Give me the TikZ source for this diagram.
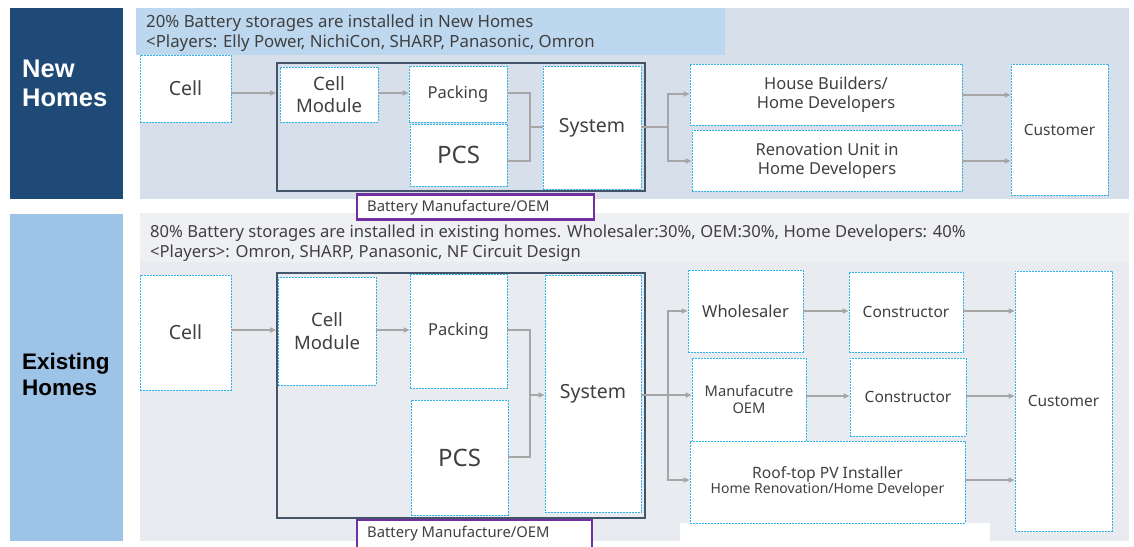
\documentclass[tikz,border=0pt]{standalone}
\usepackage{fontspec}
\setmainfont{Noto Sans}
\newfontfamily\lblfont{Liberation Sans}
\usetikzlibrary{arrows.meta}
\definecolor{navy}{HTML}{1F4A78}
\definecolor{panelA}{HTML}{D6DFEA}
\definecolor{titleA}{HTML}{BDD7EE}
\definecolor{lblue}{HTML}{9DC3E6}
\definecolor{panelB}{HTML}{E8EBF0}
\definecolor{titleB}{HTML}{EFF0F3}
\definecolor{outl}{HTML}{44546A}
\definecolor{cyanD}{HTML}{2DB3E6}
\definecolor{purp}{HTML}{7030A0}
\definecolor{arrg}{HTML}{A6A6A6}
\definecolor{txt}{HTML}{404040}
\tikzset{
  box/.style={draw=cyanD, dash pattern=on 2pt off 1pt, line width=0.8pt, fill=white, inner sep=0pt, align=center, text=txt},
  oembox/.style={draw=outl, solid, line width=1.6pt, fill=none, inner sep=0pt},
  plain/.style={draw=none, inner sep=0pt},
  lab/.style={draw=purp, solid, line width=2.6pt, fill=white, inner sep=0pt},
  arr/.style={draw=arrg, line width=1.2pt, -{Triangle[length=6pt,width=5pt]}},
  ln/.style={draw=arrg, line width=1.2pt},
  ttl/.style={anchor=north west, align=left, inner sep=0pt, text=txt},
  labtxt/.style={anchor=west, inner sep=0pt, text=txt, font=\fontsize{14.8}{17}\selectfont},
}
\newcommand\bbox[7][]{%
  \pgfmathsetmacro\bw{#5-#3}\pgfmathsetmacro\bh{#6-#4}%
  \node[box,#1,minimum width=\bw pt,minimum height=\bh pt] (#2) at ({(#3+#5)/2},{(#4+#6)/2}) {#7};}
\begin{document}
\begin{tikzpicture}[x=1pt,y=-1pt]
\useasboundingbox (0,0) rectangle (1134,546);
\fill[white] (0,0) rectangle (1134,546);
% ---------------- New Homes ----------------
\bbox[plain,fill=navy]{nh}{10}{8}{123}{199}{}
\node[anchor=north west, align=left, text=white, font=\lblfont\fontsize{25.5}{29}\selectfont\bfseries, inner sep=0pt] (nhl) at (22,60) {New\\Homes};
\bbox[plain,fill=panelA]{pA}{140}{8}{1129}{199}{}
\bbox[plain,fill=titleA]{tA}{136}{8}{725}{55}{}
\node[ttl, font=\fontsize{16.8}{20}\selectfont] (tAt) at (146,14.5) {20\% Battery storages are installed in New Homes\\<Players: Elly Power, NichiCon, SHARP, Panasonic, Omron};
\bbox[oembox]{oemA}{277}{63}{645}{191}{}
\bbox[font=\fontsize{19.5}{22}\selectfont]{cellA}{140}{55}{231}{122}{Cell}
\bbox[font=\fontsize{18.5}{22}\selectfont]{cmA}{280}{67}{378}{122}{Cell\\Module}
\bbox[font=\fontsize{16.5}{20}\selectfont]{packA}{409}{66}{507}{122}{Packing}
\bbox[font=\fontsize{24}{26}\selectfont]{pcsA}{410}{124}{507}{186}{PCS}
\bbox[font=\fontsize{19.5}{22}\selectfont]{sysA}{543}{66}{641}{189}{System}
\bbox[font=\fontsize{16.5}{19}\selectfont]{hbA}{690}{64}{962}{125}{House Builders/\\Home Developers}
\bbox[font=\fontsize{16.5}{19}\selectfont]{renA}{692}{130}{962}{191}{Renovation Unit in\\Home Developers}
\bbox[font=\fontsize{15.5}{18}\selectfont]{custA}{1011}{64}{1108}{195}{Customer}
% arrows top
\draw[arr] (cellA.east |- 0,93) -- (oemA.west |- 0,93);
\draw[arr] (cmA.east |- 0,93) -- (packA.west |- 0,93);
\coordinate (jA) at (530,127);
\draw[ln] (packA.east |- 0,93) -| (jA);
\draw[ln] (pcsA.east |- 0,161) -| (jA);
\draw[ln] (jA) -- (sysA.west |- jA);
\coordinate (sA) at (668,127);
\draw[ln] (sysA.east |- sA) -- (sA);
\draw[arr] (sA) |- (hbA.west |- 0,94);
\draw[arr] (sA) |- (renA.west |- 0,161);
\draw[arr] (hbA.east |- 0,95) -- (custA.west |- 0,95);
\draw[arr] (renA.east |- 0,161) -- (custA.west |- 0,161);
% ---------------- Existing Homes ----------------
\bbox[plain,fill=lblue]{eh}{10}{214}{123}{541}{}
\node[anchor=north west, align=left, text=black, font=\lblfont\fontsize{22.5}{26}\selectfont\bfseries, inner sep=0pt] (ehl) at (22,353) {Existing\\Homes};
\bbox[plain,fill=panelB]{pB}{140}{213}{1129}{541}{}
\bbox[plain,fill=titleB]{tB}{140}{213}{1129}{262}{}
\node[ttl, font=\fontsize{16.6}{20}\selectfont] (tBt) at (150,224.5) {80\% Battery storages are installed in existing homes. Wholesaler:30\%, OEM:30\%, Home Developers: 40\%\\<Players>: Omron, SHARP, Panasonic, NF Circuit Design};
\bbox[plain,fill=white]{wB}{680}{523}{990}{546}{}
\bbox[oembox]{oemB}{277}{273}{645}{518}{}
\bbox[font=\fontsize{19.5}{22}\selectfont]{cellB}{140}{275}{231}{390}{Cell}
\bbox[font=\fontsize{18.5}{23}\selectfont]{cmB}{278}{277}{376}{385}{Cell\\Module}
\bbox[font=\fontsize{16.5}{20}\selectfont]{packB}{410}{274}{507}{388}{Packing}
\bbox[font=\fontsize{24}{26}\selectfont]{pcsB}{411}{400}{508}{515}{PCS}
\bbox[font=\fontsize{19.5}{22}\selectfont]{sysB}{545}{275}{641}{512}{System}
\bbox[font=\fontsize{16.5}{19}\selectfont]{whB}{688}{270}{803}{352}{Wholesaler}
\bbox[font=\fontsize{15.5}{18}\selectfont]{con1B}{849}{272}{963}{352}{Constructor}
\bbox[font=\fontsize{14.7}{17}\selectfont]{mfB}{692}{358}{806}{441}{Manufacutre\\OEM}
\bbox[font=\fontsize{15.5}{18}\selectfont]{con2B}{850}{358}{966}{436}{Constructor}
\bbox{roofB}{690}{441}{965}{523}{{\fontsize{15.6}{18}\selectfont Roof-top PV Installer}\\{\fontsize{14}{16}\selectfont Home Renovation/Home Developer}}
\bbox[font=\fontsize{15.5}{18}\selectfont]{custB}{1015}{271}{1112}{531}{Customer}
% arrows bottom
\draw[arr] (cellB.east |- 0,330) -- (oemB.west |- 0,330);
\draw[arr] (cmB.east |- 0,330) -- (packB.west |- 0,330);
\coordinate (jB) at (530,395);
\draw[ln] (packB.east |- 0,330) -| (jB);
\draw[ln] (pcsB.east |- 0,457) -| (jB);
\draw[arr] (jB) -- (sysB.west |- jB);
\coordinate (sB) at (668,395);
\draw[ln] (sysB.east |- sB) -- (sB);
\draw[arr] (sB) |- (whB.west |- 0,311);
\draw[arr] (sB) -- (mfB.west |- sB);
\draw[arr] (sB) |- (roofB.west |- 0,480);
\draw[arr] (whB.east |- 0,311) -- (con1B.west |- 0,311);
\draw[arr] (mfB.east |- 0,396) -- (con2B.west |- 0,396);
\draw[arr] (con1B.east |- 0,311) -- (custB.west |- 0,311);
\draw[arr] (con2B.east |- 0,396) -- (custB.west |- 0,396);
\draw[arr] (roofB.east |- 0,480) -- (custB.west |- 0,480);
% ---------------- OEM labels ----------------
\node[lab, minimum width=237pt, minimum height=25pt] (labA) at (475.5,207) {};
\node[labtxt] (labAt) at (367,207.5) {Battery Manufacture/OEM};
\node[lab, minimum width=235pt, minimum height=30pt] (labB) at (474.5,535) {};
\node[labtxt] (labBt) at (367,534) {Battery Manufacture/OEM};
\end{tikzpicture}
\end{document}
